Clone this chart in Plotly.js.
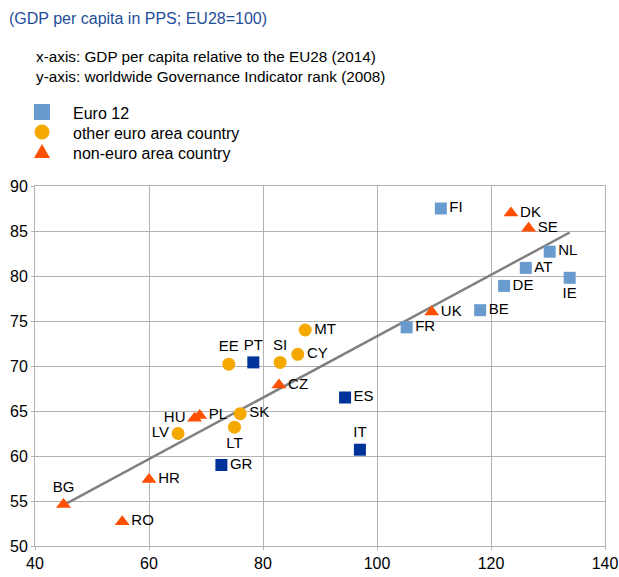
<!DOCTYPE html>
<html>
<head>
<meta charset="utf-8">
<script src="https://cdn.plot.ly/plotly-3.0.1.min.js"></script>
<style>html,body{margin:0;padding:0;background:#fff;}#chart{width:619px;height:577px;}</style>
</head>
<body>
<div id="chart"></div>
<script>
// Euro 12 (light blue)
const euro12Names = ["FI","NL","AT","IE","DE","BE","FR"];
const euro12X = [111.2,130.3,126.1,133.8,122.3,118.1,105.2];
const euro12Y = [87.5,82.7,80.9,79.8,78.9,76.2,74.3];
const euro12Pos = ["middle right","middle right","middle right","bottom center","middle right","middle right","middle right"];

// Euro 12, highlighted (dark blue)
const euro12bNames = ["PT","ES","IT","GR"];
const euro12bX = [78.3,94.4,97.0,72.7];
const euro12bY = [70.4,66.5,60.7,59.0];
const euro12bPos = ["top center","middle right","top center","middle right"];

// other euro area country (orange)
const otherNames = ["MT","EE","SI","CY","SK","LT","LV"];
const otherX = [87.4,74.0,83.0,86.1,76.0,75.0,65.1];
const otherY = [74.0,70.2,70.4,71.3,64.7,63.2,62.5];
const otherPos = ["middle right","top center","top center","middle right","middle right","bottom center","middle left"];

// non-euro area country (red-orange)
const nonNames = ["DK","SE","UK","CZ","HU","PL","HR","BG","RO"];
const nonX = [123.5,126.6,109.6,82.8,68.0,68.9,60.0,45.0,55.3];
const nonY = [87.0,85.3,76.0,67.9,64.2,64.5,57.4,54.6,52.7];
const nonPos = ["middle right","middle right","middle right","middle right","middle left","middle right","middle right","top center","middle right"];

// Legend entries
const legendLabels = ["Euro 12","other euro area country","non-euro area country"];
const legendColors = ["#6a9bcf","#f5a800","#ff4f00"];

// Linear trend fitted to all points
const allX = euro12X.concat(euro12bX, otherX, nonX);
const allY = euro12Y.concat(euro12bY, otherY, nonY);
const n = allX.length;
const mx = allX.reduce((a,b)=>a+b,0)/n, my = allY.reduce((a,b)=>a+b,0)/n;
let sxy=0, sxx=0;
for (let i=0;i<n;i++){ sxy += (allX[i]-mx)*(allY[i]-my); sxx += (allX[i]-mx)*(allX[i]-mx); }
const slope = sxy/sxx, icpt = my - slope*mx;
const trendX = [Math.min(...allX), Math.max(...allX)];
const trendY = trendX.map(x => icpt + slope*x);

const FONT = "Liberation Sans, Arial, sans-serif";
const lblFont = {family: FONT, size: 15, color: "#000"};

const traces = [
  {x: trendX, y: trendY, mode: "lines", line: {color: "#808080", width: 2.5}, showlegend: false, hoverinfo: "skip"},
  {x: euro12X, y: euro12Y, text: euro12Names, textposition: euro12Pos, mode: "markers+text", name: legendLabels[0],
   marker: {symbol: "square", size: 12, color: legendColors[0]}, textfont: lblFont, cliponaxis: false},
  {x: euro12bX, y: euro12bY, text: euro12bNames, textposition: euro12bPos, mode: "markers+text", name: "Euro 12",
   marker: {symbol: "square", size: 12, color: "#003399"}, textfont: lblFont, cliponaxis: false},
  {x: otherX, y: otherY, text: otherNames, textposition: otherPos, mode: "markers+text", name: legendLabels[1],
   marker: {symbol: "circle", size: 13, color: legendColors[1]}, textfont: lblFont, cliponaxis: false},
  {x: nonX, y: nonY, text: nonNames, textposition: nonPos, mode: "markers+text", name: legendLabels[2],
   marker: {symbol: "triangle-up", size: 13, color: legendColors[2]}, textfont: lblFont, cliponaxis: false}
];

// pixel -> paper helpers (plot area: x 35..605, y 186..546)
const PL = 35, PW = 570, PB = 546, PH = 360;
const px = p => (p - PL) / PW;
const py = p => (PB - p) / PH;

const legendRows = [112, 132, 152];
const shapes = [
  {type: "rect", xref: "paper", yref: "paper", xsizemode: "pixel", ysizemode: "pixel",
   xanchor: px(42), yanchor: py(legendRows[0]), x0: -8, x1: 8, y0: -8, y1: 8,
   fillcolor: legendColors[0], line: {width: 0}},
  {type: "circle", xref: "paper", yref: "paper", xsizemode: "pixel", ysizemode: "pixel",
   xanchor: px(42), yanchor: py(legendRows[1]), x0: -7.5, x1: 7.5, y0: -7.5, y1: 7.5,
   fillcolor: legendColors[1], line: {width: 0}},
  {type: "path", xref: "paper", yref: "paper", xsizemode: "pixel", ysizemode: "pixel",
   xanchor: px(42), yanchor: py(legendRows[2]), path: "M-8,-6 L8,-6 L0,8 Z",
   fillcolor: legendColors[2], line: {width: 0}}
];

const annotations = [
  {text: "(GDP per capita in PPS; EU28=100)", xref: "paper", yref: "paper", x: px(7), y: py(18),
   xanchor: "left", yanchor: "middle", showarrow: false, font: {family: FONT, size: 16, color: "#1f4e9a"}},
  {text: "x-axis: GDP per capita relative to the EU28 (2014)<br>y-axis: worldwide Governance Indicator rank (2008)",
   xref: "paper", yref: "paper", x: px(34), y: py(66.5), xanchor: "left", yanchor: "middle", align: "left",
   showarrow: false, font: {family: FONT, size: 15.3, color: "#000"}}
];
legendLabels.forEach((t, i) => annotations.push({
  text: t, xref: "paper", yref: "paper", x: px(71), y: py(legendRows[i] + 1), xanchor: "left", yanchor: "middle",
  showarrow: false, font: {family: FONT, size: 16, color: "#000"}
}));

const axisCommon = {
  showgrid: true, gridcolor: "#b3b3b3", gridwidth: 1,
  showline: true, linecolor: "#b3b3b3", linewidth: 1, mirror: true, zeroline: false,
  ticks: "outside", ticklen: 3, tickcolor: "#b3b3b3", tickfont: {family: FONT, size: 16, color: "#000"}
};

const layout = {
  width: 619, height: 577,
  margin: {l: 35, r: 14, t: 186, b: 31},
  paper_bgcolor: "#fff", plot_bgcolor: "#fff",
  font: {family: FONT, size: 15, color: "#000"},
  showlegend: false,
  xaxis: Object.assign({range: [40, 140], dtick: 20, tick0: 40}, axisCommon),
  yaxis: Object.assign({range: [50, 90], dtick: 5, tick0: 50}, axisCommon),
  shapes: shapes,
  annotations: annotations
};

Plotly.newPlot("chart", traces, layout, {displayModeBar: false, staticPlot: true});
</script>
</body>
</html>
